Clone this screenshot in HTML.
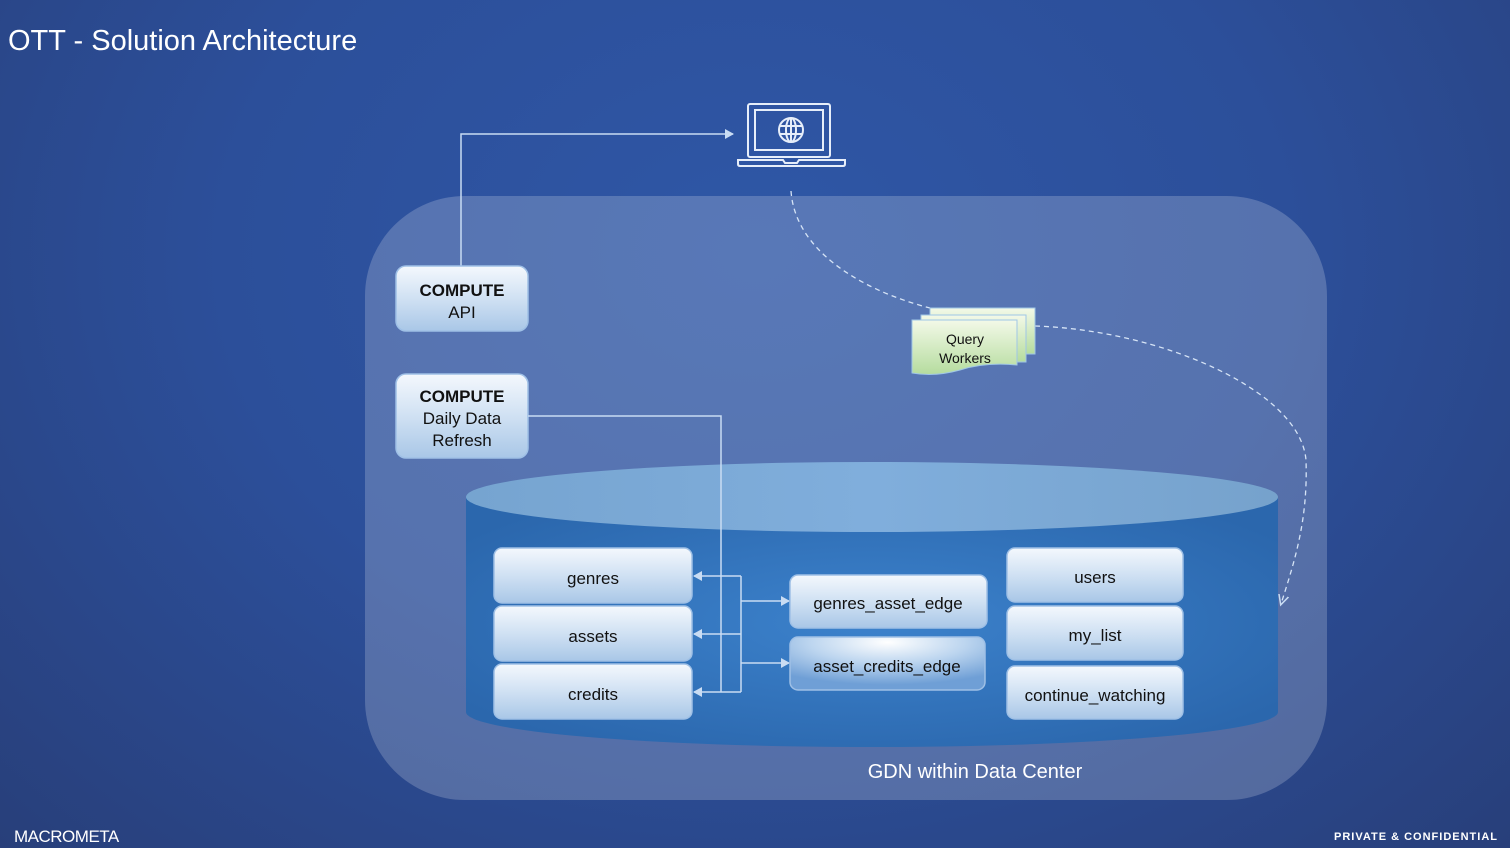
<!DOCTYPE html>
<html><head><meta charset="utf-8"><style>
html,body{margin:0;padding:0;width:1510px;height:848px;overflow:hidden}
body{background:radial-gradient(ellipse at 50% 30%,#2f57a6 0%,#2c4f9a 50%,#283f7a 100%)}
svg{display:block}
text{font-family:"Liberation Sans",sans-serif}
</style></head><body>
<svg width="1510" height="848" viewBox="0 0 1510 848" xmlns="http://www.w3.org/2000/svg">
<defs>
<linearGradient id="box" x1="0" y1="0" x2="0" y2="1">
<stop offset="0" stop-color="#f4f8fd"/><stop offset="0.5" stop-color="#d0e1f3"/><stop offset="1" stop-color="#a9c7e7"/>
</linearGradient>
<radialGradient id="box2" cx="0.5" cy="0.1" r="0.8">
<stop offset="0" stop-color="#ffffff"/><stop offset="0.5" stop-color="#bcd5ef"/><stop offset="1" stop-color="#6f9fd6"/>
</radialGradient>
<linearGradient id="grn" x1="0" y1="0" x2="0" y2="1">
<stop offset="0" stop-color="#f3f9e8"/><stop offset="1" stop-color="#b5dc9e"/>
</linearGradient>
<radialGradient id="cyl" cx="0.5" cy="0.5" r="0.6">
<stop offset="0" stop-color="#3c82cc"/><stop offset="1" stop-color="#2b67ad"/>
</radialGradient>
<linearGradient id="top" x1="0" y1="0" x2="1" y2="0">
<stop offset="0" stop-color="#76a4d0"/><stop offset="0.5" stop-color="#80aedc"/><stop offset="1" stop-color="#76a2cc"/>
</linearGradient>
<marker id="ar" markerWidth="10" markerHeight="10" refX="8" refY="5" orient="auto" markerUnits="userSpaceOnUse">
<path d="M0,0 L9,5 L0,10 Z" fill="#c9dcf3"/>
</marker>
<marker id="ard" markerWidth="12" markerHeight="12" refX="9" refY="6" orient="auto" markerUnits="userSpaceOnUse">
<path d="M0,1 L10,6 L0,11" fill="none" stroke="#c9dcf3" stroke-width="1.5"/>
</marker>
</defs>

<text x="8" y="50" font-size="29" fill="#ffffff">OTT - Solution Architecture</text>

<rect x="365" y="196" width="962" height="604" rx="100" fill="#ffffff" fill-opacity="0.2"/>

<!-- laptop -->
<g fill="none" stroke="#e6eefa" stroke-width="2">
<rect x="748" y="104" width="82" height="53" rx="2"/>
<rect x="755" y="110" width="68" height="40"/>
<path d="M738,160 H783 L785,163 H797 L799,160 H845 V164 Q845,166 843,166 H740 Q738,166 738,164 Z"/>
<circle cx="791" cy="130" r="12"/>
<ellipse cx="791" cy="130" rx="5" ry="12"/>
<line x1="779" y1="126" x2="803" y2="126"/><line x1="779" y1="134" x2="803" y2="134"/>
<line x1="791" y1="118" x2="791" y2="142"/>
</g>

<!-- API connector -->
<polyline points="461,266 461,134 733,134" fill="none" stroke="#c9dcf3" stroke-width="1.5" marker-end="url(#ar)"/>

<!-- dashed connectors -->
<path d="M791,191 C795,250 860,290 930,308" fill="none" stroke="#d6e4f6" stroke-width="1.3" stroke-dasharray="5,4"/>
<path d="M1035,326 C1160,330 1300,390 1306,460 C1308,520 1295,560 1281,604" fill="none" stroke="#d6e4f6" stroke-width="1.3" stroke-dasharray="5,4" marker-end="url(#ard)"/>

<!-- compute boxes -->
<rect x="396" y="266" width="132" height="65" rx="10" fill="url(#box)" stroke="#9fc0e6" stroke-width="1.5"/>
<text x="462" y="296" font-size="17" font-weight="bold" text-anchor="middle" fill="#111">COMPUTE</text>
<text x="462" y="318" font-size="17" text-anchor="middle" fill="#111">API</text>
<rect x="396" y="374" width="132" height="84" rx="10" fill="url(#box)" stroke="#9fc0e6" stroke-width="1.5"/>
<text x="462" y="402" font-size="17" font-weight="bold" text-anchor="middle" fill="#111">COMPUTE</text>
<text x="462" y="424" font-size="17" text-anchor="middle" fill="#111">Daily Data</text>
<text x="462" y="446" font-size="17" text-anchor="middle" fill="#111">Refresh</text>

<!-- query workers -->
<rect x="930" y="308" width="105" height="46" fill="url(#grn)" stroke="#9fc6e6" stroke-width="1"/>
<rect x="921" y="315" width="105" height="47" fill="url(#grn)" stroke="#9fc6e6" stroke-width="1"/>
<path d="M912,320 H1017 V365 Q985,362 960,370 Q935,377 912,373 Z" fill="url(#grn)" stroke="#9fc6e6" stroke-width="1"/>
<text x="965" y="344" font-size="14" text-anchor="middle" fill="#111">Query</text>
<text x="965" y="363" font-size="14" text-anchor="middle" fill="#111">Workers</text>

<!-- cylinder -->
<path d="M466,497 V712 A406,35 0 0 0 1278,712 V497 Z" fill="url(#cyl)"/>
<ellipse cx="872" cy="497" rx="406" ry="35" fill="url(#top)"/>

<!-- connectors -->
<g fill="none" stroke="#c9dcf3" stroke-width="1.5">
<polyline points="528,416 721,416 721,692"/>
<polyline points="741,576 741,692"/>
<line x1="741" y1="576" x2="694" y2="576" marker-end="url(#ar)"/>
<line x1="741" y1="634" x2="694" y2="634" marker-end="url(#ar)"/>
<line x1="741" y1="692" x2="694" y2="692" marker-end="url(#ar)"/>
<line x1="741" y1="601" x2="789" y2="601" marker-end="url(#ar)"/>
<line x1="741" y1="663" x2="789" y2="663" marker-end="url(#ar)"/>
</g>

<!-- tables -->
<g stroke="#9fc0e6" stroke-width="1.5" fill="url(#box)">
<rect x="494" y="548" width="198" height="55" rx="8"/>
<rect x="494" y="606" width="198" height="55" rx="8"/>
<rect x="494" y="664" width="198" height="55" rx="8"/>
<rect x="790" y="575" width="197" height="53" rx="8"/>
<rect x="790" y="637" width="195" height="53" rx="8" fill="url(#box2)"/>
<rect x="1007" y="548" width="176" height="54" rx="8"/>
<rect x="1007" y="606" width="176" height="54" rx="8"/>
<rect x="1007" y="666" width="176" height="53" rx="8"/>
</g>
<g font-size="17" text-anchor="middle" fill="#111">
<text x="593" y="584">genres</text>
<text x="593" y="642">assets</text>
<text x="593" y="700">credits</text>
<text x="888" y="609">genres_asset_edge</text>
<text x="887" y="672">asset_credits_edge</text>
<text x="1095" y="583">users</text>
<text x="1095" y="641">my_list</text>
<text x="1095" y="701">continue_watching</text>
</g>

<text x="975" y="778" font-size="20" text-anchor="middle" fill="#ffffff">GDN within Data Center</text>

<text x="14" y="842" font-size="17" fill="#ffffff" letter-spacing="-0.5">MACROMETA</text>
<text x="1498" y="840" font-size="11" font-weight="bold" text-anchor="end" fill="#ffffff" letter-spacing="1">PRIVATE &amp; CONFIDENTIAL</text>
</svg>
</body></html>
